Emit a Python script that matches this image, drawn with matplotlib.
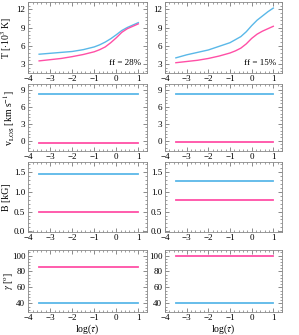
import numpy as np
import matplotlib
matplotlib.use("Agg")
import matplotlib.pyplot as plt
from matplotlib.ticker import AutoMinorLocator

plt.rcParams['font.family'] = ['Liberation Serif', 'DejaVu Serif']
plt.rcParams['mathtext.fontset'] = 'stix'

cyan = '#5ab8e8'
pink = '#ff4fa6'

# log(tau) grid of the temperature curves
logtau = [-3.5, -3.0, -2.5, -2.0, -1.5, -1.0, -0.75, -0.5, -0.25, 0.0, 0.25, 0.5, 0.75, 1.0]

# ff = 28% (left) and ff = 15% (right)
T_left_cyan = [4.6, 4.75, 4.9, 5.05, 5.35, 5.8, 6.15, 6.6, 7.15, 7.8, 8.5, 9.0, 9.4, 9.8]
T_left_pink = [3.5, 3.7, 3.9, 4.2, 4.55, 5.0, 5.35, 5.8, 6.5, 7.3, 8.2, 8.8, 9.2, 9.6]
T_right_cyan = [4.0, 4.5, 4.9, 5.3, 5.9, 6.5, 7.0, 7.5, 8.3, 9.3, 10.2, 10.9, 11.6, 12.2]
T_right_pink = [3.2, 3.4, 3.6, 3.9, 4.3, 4.8, 5.15, 5.6, 6.3, 7.2, 7.9, 8.4, 8.8, 9.2]

vlos_left = [8.3, -0.3]    # cyan, pink
vlos_right = [8.3, -0.2]
B_left = [1.45, 0.5]
B_right = [1.27, 0.79]
gamma_left = [41, 85]
gamma_right = [41, 99]

ff_labels = ['ff = 28%', 'ff = 15%']
ylabels = [r'T [$\cdot$10$^3$ K]', r'v$_{\rm LOS}$ [km s$^{-1}$]', 'B [kG]', r'$\gamma$ [$^{\rm o}$]']
ylab_x = [-0.12, -0.09, -0.145, -0.10]
ylims = [(1.5, 13.2), (-1.8, 10.0), (-0.02, 1.75), (29, 107)]
yticks = [[3, 6, 9, 12], [0, 3, 6, 9], [0.0, 0.5, 1.0, 1.5], [40, 60, 80, 100]]
ytickfmt = ['%d', '%d', '%.1f', '%d']

fig = plt.figure(figsize=(2.99, 3.35), dpi=100)

lefts = [0.094, 0.552]
widths = [0.398, 0.391]
rows = [(0.782, 0.212), (0.549, 0.200), (0.307, 0.209), (0.068, 0.186)]

const_sets = [
    [None, vlos_left, B_left, gamma_left],
    [None, vlos_right, B_right, gamma_right],
]
T_sets = [(T_left_cyan, T_left_pink), (T_right_cyan, T_right_pink)]

xs = [logtau[0], logtau[-1]]

for c in range(2):
    for r in range(4):
        ax = fig.add_axes([lefts[c], rows[r][0], widths[c], rows[r][1]])
        if r == 0:
            ax.plot(logtau, T_sets[c][0], color=cyan, lw=1.0)
            ax.plot(logtau, T_sets[c][1], color=pink, lw=1.0)
            ax.text(0.95, 0.08, ff_labels[c], transform=ax.transAxes,
                    ha='right', va='bottom', fontsize=6.5)
        else:
            vals = const_sets[c][r]
            ax.plot(xs, [vals[0]] * 2, color=cyan, lw=1.3)
            ax.plot(xs, [vals[1]] * 2, color=pink, lw=1.3)
        ax.set_xlim(-4, 1.4)
        ax.set_xticks([-4, -3, -2, -1, 0, 1])
        ax.set_xticklabels(['\u22124', '\u22123', '\u22122', '\u22121', '0', '1'])
        ax.set_ylim(*ylims[r])
        ax.set_yticks(yticks[r])
        ax.set_yticklabels([ytickfmt[r] % v for v in yticks[r]])
        ax.xaxis.set_minor_locator(AutoMinorLocator(5))
        ax.yaxis.set_minor_locator(AutoMinorLocator(5))
        ax.tick_params(which='both', direction='in', top=True, right=True,
                       labelsize=6.5, pad=2, color='#777777')
        ax.tick_params(axis='x', pad=1.5)
        ax.tick_params(which='major', length=3, width=0.6)
        ax.tick_params(which='minor', length=1.5, width=0.5)
        for s in ax.spines.values():
            s.set_color('#888888')
            s.set_linewidth(0.6)
        if c == 0:
            ax.set_ylabel(ylabels[r], fontsize=7)
            ax.yaxis.set_label_coords(ylab_x[r], 0.5)
        if r == 3:
            ax.set_xlabel(r'log($\tau$)', fontsize=7, labelpad=0)

fig.savefig('out.png', dpi=100)
